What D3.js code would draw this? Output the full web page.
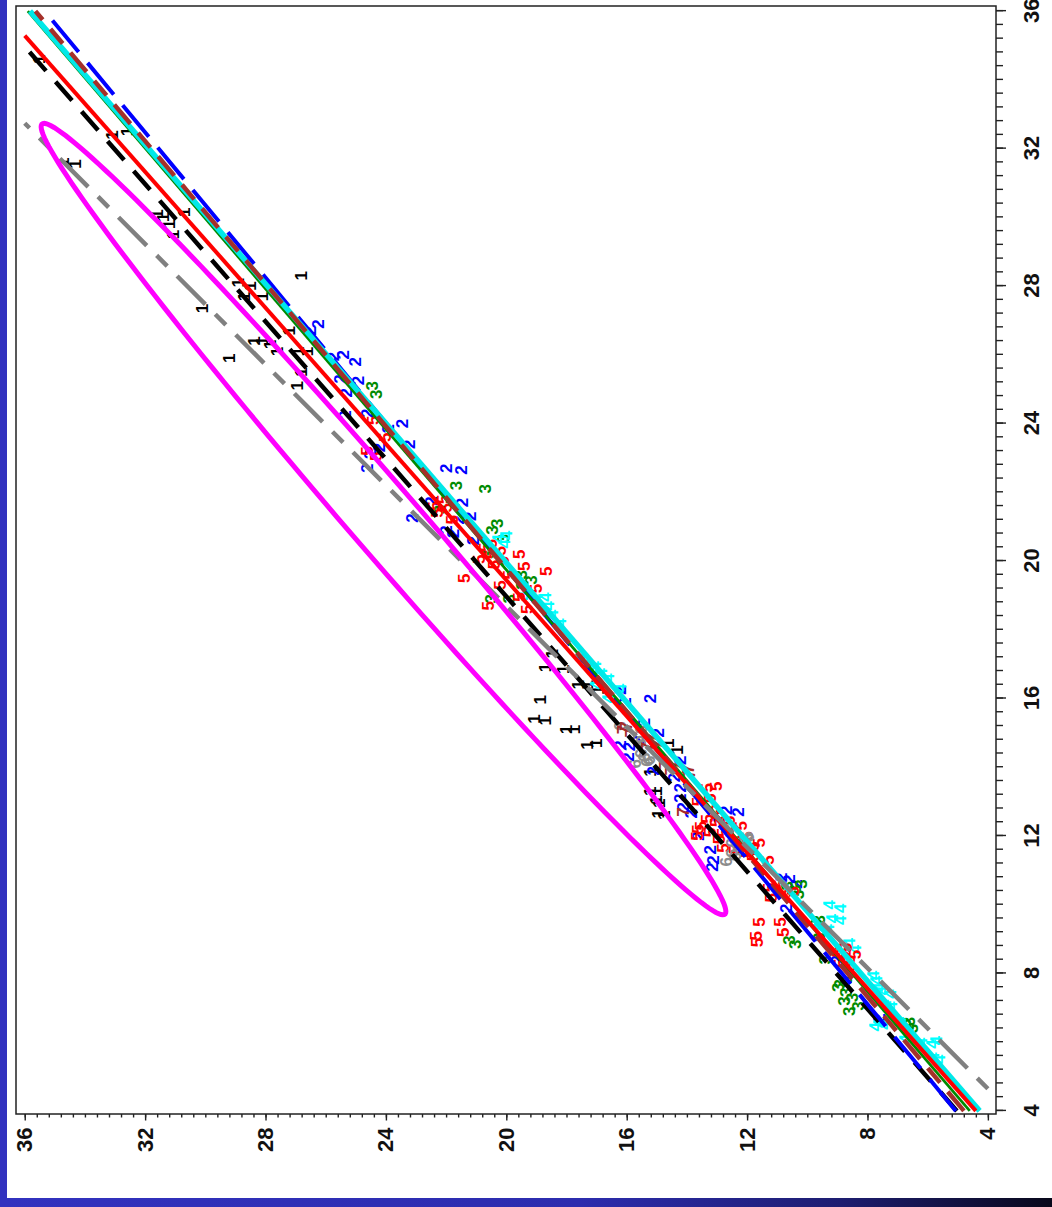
<!DOCTYPE html>
<html>
<head>
<meta charset="utf-8">
<script src="https://cdn.jsdelivr.net/npm/d3@7"></script>
<style>
    body { margin: 0; background: #fff; }
    svg { display: block; }
</style>
</head>
<body>
<div id="chart"></div>
<script>
// axis limits (data units) and ticks
const xLim = [3.91, 36.15]
const yLim = [3.73, 36.29]
const majorTicks = [4, 8, 12, 16, 20, 24, 28, 32, 36]
const minorTicks = d3.range(0, 81).map(i => 4 + i * 0.4)

// points per group: [x, y]
const group1 = [[34.6,35.5],[32.4,33.1],[32.5,32.6],[31.6,34.7],[31.55,34.3],[30.1,31.6],[30.15,30.7],[29.8,31.2],[29.5,31.05],[30.0,31.4],
    [28.3,26.8],[28.1,28.9],[28.0,28.5],[27.7,28.7],[27.7,28.1],[27.35,30.1],[26.7,27.2],[26.4,28.35],[26.4,28.1],[26.3,27.85],
    [26.1,27.6],[25.9,29.2],[26.1,26.9],[26.1,26.6],[25.5,26.8],[25.1,26.95],
    [17.3,18.45],[16.9,18.7],[16.85,18.1],[16.4,17.6],[15.96,18.85],[15.4,19.05],[15.35,18.7],[15.1,18.0],[15.1,17.75],[14.65,17.3],
    [14.7,17.0],[13.86,15.2],[13.3,15.2],[13.3,15.0],[13.05,15.0],[12.95,14.9],[12.65,14.95],[12.6,14.75],[14.7,14.6],[14.5,14.3],
    [16.4,17.3],[16.25,16.95]]
const group2 = [[26.9,26.25],[26.7,26.5],[26.0,25.4],[25.95,25.75],[25.8,25.0],[25.3,25.5],[25.25,24.9],[24.9,25.3],[24.25,25.35],[24.3,24.6],
    [24.0,23.45],[23.85,23.9],[23.4,23.2],[23.3,24.2],[23.1,24.5],[22.7,24.6],[22.7,22.0],[22.65,21.5],[21.75,22.5],[21.7,21.45],
    [21.25,23.1],[21.3,21.2],[21.2,21.6],[20.9,22.0],[20.8,21.75],[20.6,21.1],
    [16.0,15.2],[16.25,16.2],[15.9,16.05],[15.0,14.95],[14.8,15.6],[14.65,16.2],[14.6,15.9],[14.3,15.95],[14.2,14.2],[13.9,15.1],
    [13.4,14.2],[13.1,14.2],[12.85,14.1],[12.65,13.85],[12.75,12.7],[12.7,12.3],[12.5,12.9],[12.0,13.6],[11.6,13.2],[11.3,13.1],
    [11.1,13.15],[11.9,12.4],[13.7,14.4],[15.3,15.4],
    [10.75,10.6],[10.6,10.35],[10.8,10.85],[9.9,10.7],[8.4,9.0],[6.7,7.6]]
const group3 = [[25.1,24.45],[24.85,24.3],[22.2,21.65],[22.1,20.7],[21.5,22.2],[21.1,20.3],[20.9,20.45],[20.65,20.1],[20.2,20.6],[19.45,19.15],
    [19.3,19.45],[18.9,20.5],[18.9,19.9],[19.6,19.5],
    [10.6,10.2],[10.45,10.4],[10.55,10.65],[10.3,10.3],[9.56,9.6],[9.45,9.7],[8.97,10.6],[8.85,10.4],[7.7,8.9],[7.6,8.95],[7.3,8.5],
    [7.2,8.75],[6.9,8.6],[7.05,8.3],[7.45,8.7],[7.8,8.7],[6.4,6.5],[6.45,6.65],[6.55,6.75],[6.6,6.6],[8.4,9.4],[9.05,9.6]]
const group4 = [[20.65,20.25],[20.5,20.05],[20.75,20.0],[19.0,19.4],[18.95,18.7],[18.9,19.0],[18.7,18.6],[18.45,18.45],[18.2,18.2],[16.9,17.2],[16.95,17.05],
    [17.0,17.4],[16.7,17.1],[16.75,16.85],[16.6,16.6],[16.3,16.2],[16.0,16.6],[16.4,17.0],[17.2,17.5],
    [10.0,9.25],[9.9,8.9],[9.55,8.9],[9.6,9.15],[9.3,9.3],[9.35,9.6],[8.9,8.6],[8.7,8.4],[7.95,7.8],[7.8,7.7],[7.6,7.6],[7.5,7.5],
    [7.4,7.25],[7.1,7.4],[7.05,7.2],[6.9,7.3],[6.55,7.6],[6.45,7.75],[6.5,7.45],[6.1,6.75],[6.05,5.7],[6.0,6.2],[5.95,5.85],
    [5.57,5.8],[5.5,5.6],[6.6,6.9]]
const group5 = [[24.1,24.4],[23.6,24.0],[23.2,24.6],[23.05,24.3],
    [21.8,22.1],[21.55,22.0],[21.6,22.4],[21.4,22.3],[21.2,21.8],[20.5,20.5],[20.4,20.7],[20.3,20.2],[20.2,20.5],[20.05,20.9],
    [20.0,20.1],[20.2,19.55],[19.9,20.4],[19.85,19.4],[19.6,19.9],[19.5,21.4],[19.7,18.65],[19.3,20.2],[19.2,19.0],[18.95,19.55],
    [18.7,20.6],[18.6,19.3],
    [13.4,13.3],[13.45,13.0],[13.1,13.2],[13.0,13.6],[12.8,13.1],[12.5,13.3],[12.6,12.95],[12.45,12.6],[12.4,13.0],[12.3,13.5],
    [12.3,12.2],[12.2,13.6],[12.1,13.2],[12.0,13.65],[12.1,12.8],[11.9,12.9],[12.2,12.45],[12.0,12.0],[11.9,12.3],[11.7,11.8],
    [11.65,12.8],[11.6,12.4],[11.5,12.0],[11.8,11.6],[11.3,11.3],
    [11.4,11.8],[10.6,10.9],[10.5,11.25],[10.35,10.7],[10.4,10.45],[10.2,11.2],[9.5,10.9],[9.5,11.6],[9.2,10.8],[9.1,11.7],
    [8.9,11.65],[8.8,8.85],[8.75,8.7],[8.6,8.95],[8.5,8.75],[8.55,8.4],[8.4,8.6],[8.3,8.9],[8.2,8.55]]
const group6 = [[15.2,16.2],[15.1,15.5],[14.8,15.6],[14.7,15.55],[14.4,15.5],[14.3,15.4],[14.2,15.25],[14.1,15.7],[14.15,15.3],[11.9,12.2],
    [11.8,12.5],[11.7,12.3],[11.95,11.95],[12.0,12.0],[11.5,12.5],[11.4,12.4],[11.25,12.7]]
const group7 = [[15.2,16.0],[15.1,16.1],[15.0,15.85],[14.85,15.1],[14.65,14.9],[14.05,14.7],[14.0,14.2],[13.9,14.5],[13.95,13.95],[13.8,13.9],
    [12.7,14.1],[14.6,15.3]]

const groups = [group1, group2, group3, group4, group5, group6, group7]
const groupLabels = ["1", "2", "3", "4", "5", "6", "7"]

// fitted lines y = a + b*x, per group
const lineIntercepts = [1.03, 1.28, 0.69, 0.33, 0.36, -1.29, 0.94]
const lineSlopes = [1.0, 0.946, 0.978, 0.986, 1.01, 1.139, 0.964]
const lineRange = [4, 36]

// ellipse: centre, semi-axis vectors
const ellipseCenter = [21.22, 24.08]
const ellipseAxisA = [11.49, 11.35]
const ellipseAxisB = [-0.75, 0.75]

// styles
const markerColors = ["#000000", "#0000ff", "#008b00", "#00ffff", "#ff0000", "#8c8c8c", "#a52a2a"]
const lineColors = ["#000000", "#0000ff", "#008b00", "#00e8e8", "#ff0000", "#808080", "#a5302a"]
const lineWidths = [4.5, 4, 2.8, 5.5, 4, 4.5, 4.5]
const lineDashes = ["25,14.5", "41,14", null, null, null, "15,14,40,14", "25,12,19,12"]
const lineOrder = [0, 1, 2, 3, 6, 4, 5]

const plot = { LEFT: 16, RIGHT: 996, TOP: 6, BOTTOM: 1114 }
const W = plot.BOTTOM - plot.TOP
const H = plot.RIGHT - plot.LEFT

const svg = d3.select("#chart").append("svg")
    .attr("width", 1052)
    .attr("height", 1207)

svg.append("rect").attr("width", 1052).attr("height", 1207).attr("fill", "#fff")

// slide frame
const grad = svg.append("defs").append("linearGradient").attr("id", "barGrad")
grad.append("stop").attr("offset", "0%").attr("stop-color", "#3232bf")
grad.append("stop").attr("offset", "55%").attr("stop-color", "#2c2cae")
grad.append("stop").attr("offset", "80%").attr("stop-color", "#1d1d70")
grad.append("stop").attr("offset", "100%").attr("stop-color", "#08081a")
svg.append("rect").attr("x", 0).attr("y", 0).attr("width", 7).attr("height", 1207).attr("fill", "#3232bf")
svg.append("rect").attr("x", 0).attr("y", 1198).attr("width", 1052).attr("height", 9).attr("fill", "url(#barGrad)")

// plot drawn in normal orientation, then turned a quarter turn
const g = svg.append("g")
    .attr("transform", `translate(${plot.LEFT}, ${plot.BOTTOM}) rotate(-90)`)

const x = d3.scaleLinear().domain(xLim).range([0, W])
const y = d3.scaleLinear().domain(yLim).range([H, 0])

// axes
function styleAxis(sel) {
    sel.select(".domain").remove()
    sel.selectAll("line").attr("stroke", "#222").attr("stroke-width", 1.4)
    sel.selectAll("text")
        .attr("fill", "#111")
        .attr("font-family", "Liberation Sans, Arial, sans-serif")
        .attr("font-weight", "bold")
        .attr("font-size", 22)
}

g.append("g").attr("transform", `translate(0, ${H})`)
    .call(d3.axisBottom(x).tickValues(minorTicks).tickSize(7).tickSizeOuter(0).tickFormat(""))
    .call(styleAxis)
g.append("g").attr("transform", `translate(0, ${H})`)
    .call(d3.axisBottom(x).tickValues(majorTicks).tickSize(10).tickSizeOuter(0).tickPadding(17).tickFormat(d3.format("d")))
    .call(styleAxis)

g.append("g")
    .call(d3.axisLeft(y).tickValues(minorTicks).tickSize(3.5).tickSizeOuter(0).tickFormat(""))
    .call(styleAxis)
g.append("g")
    .call(d3.axisLeft(y).tickValues(majorTicks).tickSize(6.5).tickSizeOuter(0).tickPadding(7).tickFormat(d3.format("d")))
    .call(styleAxis)

// markers
groups.forEach((pts, i) => {
    g.append("g").selectAll("text")
        .data(pts)
        .join("text")
        .attr("x", d => x(d[0]))
        .attr("y", d => y(d[1]))
        .attr("text-anchor", "middle")
        .attr("dominant-baseline", "central")
        .attr("font-family", "Liberation Sans, Arial, sans-serif")
        .attr("font-weight", "bold")
        .attr("font-size", 17)
        .attr("fill", markerColors[i])
        .text(groupLabels[i])
})

// fitted lines, kept inside [4, 36] on both axes
function segment(a, b) {
    let x0 = lineRange[0], x1 = lineRange[1]
    if (a + b * x0 < lineRange[0]) x0 = (lineRange[0] - a) / b
    if (a + b * x1 > lineRange[1]) x1 = (lineRange[1] - a) / b
    return [[x0, a + b * x0], [x1, a + b * x1]]
}
const line = d3.line().x(d => x(d[0])).y(d => y(d[1]))

lineOrder.forEach(i => {
    g.append("path")
        .attr("d", line(segment(lineIntercepts[i], lineSlopes[i])))
        .attr("fill", "none")
        .attr("stroke", lineColors[i])
        .attr("stroke-width", lineWidths[i])
        .attr("stroke-dasharray", lineDashes[i])
})

// ellipse
const ellipsePts = d3.range(0, 181).map(k => {
    const t = k / 180 * 2 * Math.PI
    return [ellipseCenter[0] + ellipseAxisA[0] * Math.cos(t) + ellipseAxisB[0] * Math.sin(t),
            ellipseCenter[1] + ellipseAxisA[1] * Math.cos(t) + ellipseAxisB[1] * Math.sin(t)]
})
g.append("path")
    .attr("d", line(ellipsePts) + "Z")
    .attr("fill", "none")
    .attr("stroke", "#ff00ff")
    .attr("stroke-width", 5)

// box
g.append("rect")
    .attr("width", W)
    .attr("height", H)
    .attr("fill", "none")
    .attr("stroke", "#222")
    .attr("stroke-width", 1.5)
</script>
</body>
</html>
